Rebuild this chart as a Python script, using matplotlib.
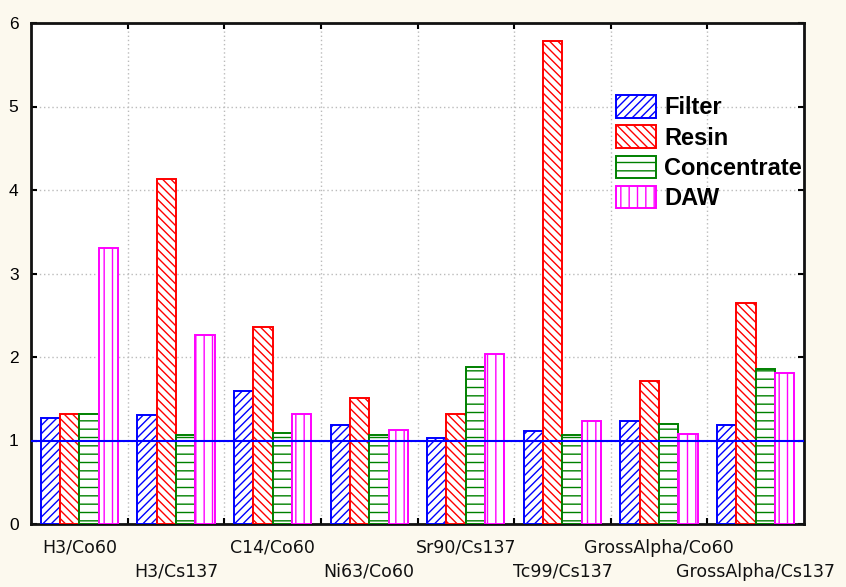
import matplotlib
matplotlib.use("Agg")
import matplotlib.pyplot as plt
import matplotlib.transforms as mtransforms
import numpy as np

categories = ["H3/Co60", "H3/Cs137", "C14/Co60", "Ni63/Co60",
              "Sr90/Cs137", "Tc99/Cs137", "GrossAlpha/Co60", "GrossAlpha/Cs137"]
series_names = ["Filter", "Resin", "Concentrate", "DAW"]
filter_vals = [1.27, 1.30, 1.59, 1.18, 1.03, 1.11, 1.23, 1.18]
resin_vals = [1.32, 4.13, 2.36, 1.51, 1.32, 5.78, 1.71, 2.65]
concentrate_vals = [1.32, 1.06, 1.09, 1.06, 1.88, 1.06, 1.20, 1.86]
daw_vals = [3.30, 2.26, 1.32, 1.13, 2.04, 1.23, 1.08, 1.81]
y_ticks = [0, 1, 2, 3, 4, 5, 6]
ref_level = 1.0

colors = ["#0000FF", "#FF0000", "#008000", "#FF00FF"]
hatches = ["////", "\\\\\\\\", "--", "||"]

plt.rcParams["font.family"] = ["Liberation Sans", "DejaVu Sans"]
plt.rcParams["hatch.linewidth"] = 1.0

bg = "#FCF9EE"
fig = plt.figure(figsize=(8.46, 5.87), dpi=100, facecolor=bg)
ax = fig.add_axes([31/846, 1-524/587, (804-31)/846, (524-23)/587])
ax.set_facecolor("white")

n = len(categories)
x = np.arange(n) + 0.5
w = 0.2
all_vals = [filter_vals, resin_vals, concentrate_vals, daw_vals]
for j, (vals, name) in enumerate(zip(all_vals, series_names)):
    ax.bar(x + (j - 1.5) * w, vals, width=w, facecolor="white",
           edgecolor=colors[j], hatch=hatches[j], linewidth=1.4,
           label=name, zorder=3)

ax.axhline(ref_level, color="#0000FF", linewidth=1.5, zorder=4)

ax.set_xlim(0, n)
ax.set_ylim(0, 6)
ax.set_yticks(y_ticks)
ax.set_yticklabels([str(t) for t in y_ticks], fontsize=12.5)

ax.set_xticks(np.arange(1, n))
ax.set_xticklabels([])
ax.tick_params(axis="x", which="major", direction="in", length=4, width=1.5,
               top=True, bottom=True)
ax.tick_params(axis="y", which="major", direction="in", length=4, width=1.5,
               left=True, right=True, pad=9)

# staggered category labels
trans = mtransforms.blended_transform_factory(ax.transData, ax.transAxes)
for i, c in enumerate(categories):
    dy = -15 if i % 2 == 0 else -39
    off = mtransforms.offset_copy(trans, fig=fig, y=dy, units="dots")
    ax.text(x[i], 0, c, transform=off, ha="center", va="top",
            fontsize=12.5, family=["DejaVu Sans"], color="#111111")

ax.grid(True, which="major", color="#BBBBBB", linestyle=(0, (1, 2)), linewidth=1, zorder=0)
ax.set_axisbelow(True)

for s in ax.spines.values():
    s.set_linewidth(2)
    s.set_color("#111111")

leg = ax.legend(loc="upper left", bbox_to_anchor=((616-31)/773, (524-95)/501),
                frameon=False, borderpad=0, borderaxespad=0,
                handlelength=1.7, handleheight=1.1, handletextpad=0.35,
                labelspacing=0.25, prop={"weight": "bold", "size": 17})

fig.savefig("out.png", dpi=100, facecolor=bg)
